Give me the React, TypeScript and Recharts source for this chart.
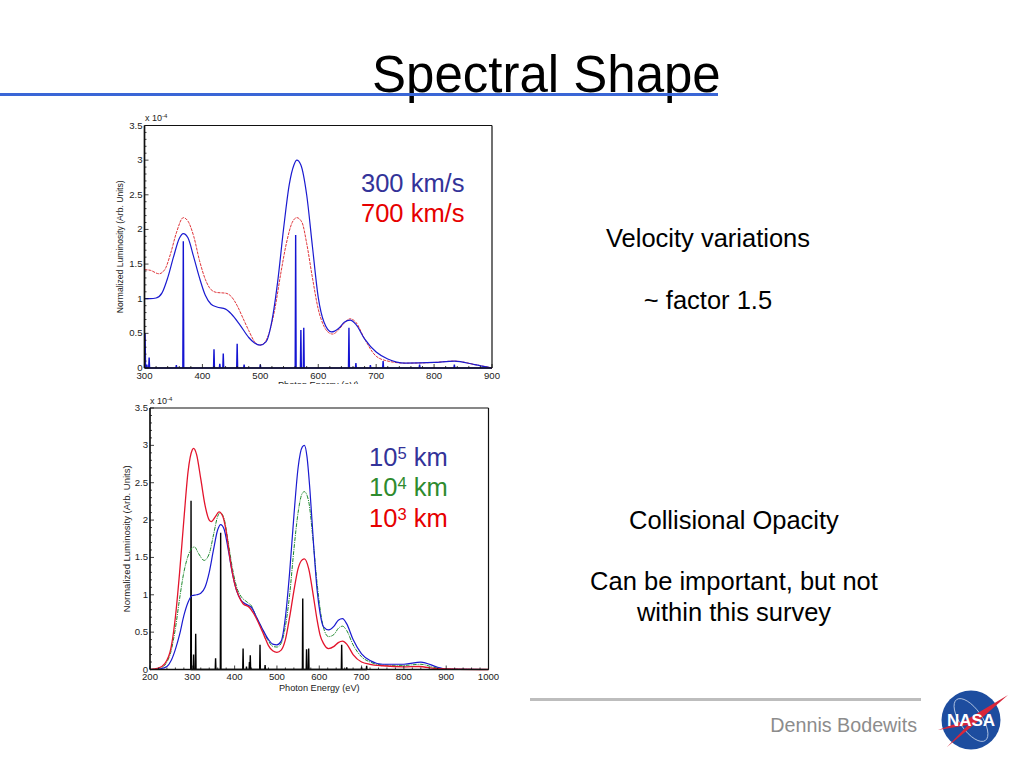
import { Line, LineChart, XAxis, YAxis } from "recharts";

type Pair = [number, number];

const topBlueCurve: Pair[] = [[300,1.0],[310,1.0],[320,1.01],[330,1.08],[340,1.3],[350,1.6],[360,1.87],[367,1.94],[375,1.88],[385,1.6],[395,1.3],[405,1.05],[415,.92],[425,.88],[440,.85],[450,.78],[465,.62],[480,.44],[490,.36],[500,.33],[510,.38],[520,.68],[530,1.25],[540,2.0],[550,2.65],[558,2.93],[563,3.0],[570,2.93],[580,2.5],[590,1.75],[600,1.02],[610,.66],[623,.52],[635,.57],[645,.66],[655,.69],[665,.63],[680,.42],[700,.23],[720,.13],[750,.07],[800,.08],[835,.1],[870,.05],[900,0]];
const topRedCurve: Pair[] = [[300,1.42],[310,1.41],[325,1.36],[335,1.42],[345,1.65],[355,1.95],[367,2.17],[375,2.12],[385,1.9],[395,1.55],[405,1.28],[415,1.13],[425,1.09],[440,1.08],[450,1.03],[460,.9],[470,.72],[480,.54],[490,.38],[498,.33],[505,.35],[515,.5],[525,.85],[535,1.35],[545,1.8],[555,2.1],[563,2.17],[572,2.1],[580,1.8],[590,1.3],[600,.85],[610,.6],[620,.5],[625,.49],[635,.55],[645,.65],[655,.71],[665,.66],[680,.42],[700,.17],[720,.1],[750,.07],[800,.08],[835,.1],[870,.05],[900,0]];
const topLines: Pair[] = [[301,.5],[304,.05],[308,.15],[355,.04],[367,1.83],[420,.27],[430,.06],[436,.21],[460,.35],[472,.05],[500,.05],[561,1.92],[570,.55],[575,.58],[653,.58],[665,.07],[690,.04],[712,.1],[775,.05],[835,.05],[899,0]];

const botBlueCurve: Pair[] = [[200,0],[225,.01],[240,.04],[250,.12],[260,.27],[270,.47],[280,.72],[290,.9],[300,.99],[310,1.0],[320,1.02],[330,1.1],[340,1.3],[350,1.6],[360,1.87],[367,1.94],[375,1.88],[385,1.6],[395,1.28],[405,1.05],[415,.93],[425,.88],[440,.83],[450,.72],[465,.55],[480,.4],[490,.34],[500,.33],[510,.38],[520,.7],[530,1.3],[540,2.05],[550,2.7],[560,2.98],[565,3.0],[571,2.85],[578,2.4],[587,1.64],[595,1.06],[602,.75],[610,.57],[622,.53],[635,.58],[645,.66],[655,.68],[665,.61],[680,.4],[700,.21],[720,.12],[750,.07],[800,.07],[840,.1],[880,.03],[900,.005],[1000,0]];
const botGreenCurve: Pair[] = [[200,0],[225,.02],[240,.1],[250,.25],[260,.55],[270,.95],[280,1.3],[290,1.52],[300,1.63],[305,1.64],[315,1.55],[328,1.46],[340,1.55],[350,1.8],[360,2.05],[366,2.1],[375,2.02],[385,1.7],[395,1.35],[405,1.1],[415,.98],[430,.9],[440,.85],[450,.72],[465,.55],[480,.38],[490,.31],[500,.3],[510,.35],[520,.58],[530,1.0],[540,1.6],[550,2.1],[560,2.36],[565,2.38],[575,2.25],[585,1.75],[595,1.15],[605,.7],[615,.48],[622,.44],[635,.47],[645,.55],[655,.58],[665,.52],[680,.33],[700,.17],[720,.1],[750,.06],[800,.055],[840,.07],[870,.03],[900,.005],[1000,0]];
const botRedCurve: Pair[] = [[200,0],[220,.02],[235,.08],[250,.3],[260,.7],[270,1.3],[280,2.0],[290,2.65],[300,2.94],[303,2.96],[310,2.88],[320,2.55],[330,2.2],[340,2.0],[345,1.98],[355,2.05],[363,2.11],[372,2.05],[380,1.85],[390,1.45],[400,1.15],[410,.98],[420,.88],[435,.83],[445,.75],[460,.58],[470,.45],[480,.32],[490,.25],[500,.23],[510,.26],[520,.4],[530,.7],[540,1.05],[550,1.35],[560,1.47],[565,1.48],[575,1.35],[587,.95],[595,.66],[602,.46],[610,.35],[622,.28],[635,.31],[645,.36],[655,.38],[665,.34],[680,.2],[700,.1],[720,.07],[750,.05],[800,.035],[835,.04],[880,.01],[1000,0]];
const botLines: Pair[] = [[297,2.26],[303,.2],[308,.48],[355,.15],[367,1.83],[420,.28],[428,.04],[435,.1],[437,.19],[460,.33],[472,.06],[561,.95],[570,.27],[575,.28],[653,.33],[665,.03],[700,.03],[712,.05]];

const topXTicks = [300, 400, 500, 600, 700, 800, 900];
const botXTicks = [200, 300, 400, 500, 600, 700, 800, 900, 1000];
const yTicks = [0, 0.5, 1, 1.5, 2, 2.5, 3, 3.5];
const topXMinor = [320, 340, 360, 380, 420, 440, 460, 480, 520, 540, 560, 580, 620, 640, 660, 680, 720, 740, 760, 780, 820, 840, 860, 880];
const botXMinor = [220, 240, 260, 280, 320, 340, 360, 380, 420, 440, 460, 480, 520, 540, 560, 580, 620, 640, 660, 680, 720, 740, 760, 780, 820, 840, 860, 880, 920, 940, 960, 980];
const yMinor = [0.1, 0.2, 0.3, 0.4, 0.6, 0.7, 0.8, 0.9, 1.1, 1.2, 1.3, 1.4, 1.6, 1.7, 1.8, 1.9, 2.1, 2.2, 2.3, 2.4, 2.6, 2.7, 2.8, 2.9, 3.1, 3.2, 3.3, 3.4];

const toRows = (pairs: Pair[]) => pairs.map(([x, y]) => ({ x, y }));
// each emission line goes up and back down at the same energy
const toSpikes = (pairs: Pair[]) =>
  pairs.flatMap(([x, y]) => [
    { x: x - 0.8, y: 0 },
    { x, y },
    { x: x + 0.8, y: 0 },
  ]);

const FONT = "'Liberation Sans', Arial, sans-serif";
const AXIS_COLOR = "#111";
const TICK_FONT = 9.6;

function tickRenderer(side: "bottom" | "left" | "top" | "right", majors: number[]) {
  return (props: any) => {
    const { x, y, payload } = props;
    const major = majors.includes(payload.value);
    const len = major ? 4 : 2;
    const dx = side === "left" ? len : side === "right" ? -len : 0;
    const dy = side === "bottom" ? -len : side === "top" ? len : 0;
    return (
      <g>
        <line x1={x} y1={y} x2={x + dx} y2={y + dy} stroke={AXIS_COLOR} strokeWidth={0.8} />
        {major && side === "bottom" && (
          <text x={x} y={y + 10.5} textAnchor="middle" fontSize={TICK_FONT} fontFamily={FONT} fill="#222">
            {payload.value}
          </text>
        )}
        {major && side === "left" && (
          <text x={x - 2} y={y + 3} textAnchor="end" fontSize={TICK_FONT} fontFamily={FONT} fill="#222">
            {payload.value}
          </text>
        )}
      </g>
    );
  };
}

type PlotProps = {
  left: number;
  top: number;
  width: number;
  height: number;
  plotLeft: number;
  plotTop: number;
  plotWidth: number;
  plotHeight: number;
  xDomain: [number, number];
  xTicks: number[];
  xMinor: number[];
  yLabelSize: number;
  yLabelOffset: number;
  xLabelOffset: number;
  series: { name: string; rows: { x: number; y: number }[]; color: string; width: number; dash?: string }[];
};

function Plot(p: PlotProps) {
  const allX = [...p.xTicks, ...p.xMinor];
  const allY = [...yTicks, ...yMinor];
  return (
    <div style={{ position: "absolute", left: p.left, top: p.top, width: p.width, height: p.height, overflow: "hidden" }}>
      <LineChart
        width={p.width}
        height={p.height + 20}
        margin={{
          left: p.plotLeft - p.left - 1,
          top: p.plotTop - p.top - 1,
          right: p.left + p.width - p.plotLeft - p.plotWidth - 1,
          bottom: p.top + p.height + 20 - p.plotTop - p.plotHeight - 1,
        }}
      >
        <XAxis
          xAxisId="b"
          type="number"
          dataKey="x"
          domain={p.xDomain}
          ticks={allX}
          interval={0}
          height={1}
          tickSize={0}
          tickMargin={0}
          tickLine={false}
          allowDuplicatedCategory={false}
          stroke={AXIS_COLOR}
          strokeWidth={1.5}
          tick={tickRenderer("bottom", p.xTicks)}
          label={{ value: "Photon Energy (eV)", position: "bottom", offset: p.xLabelOffset, fontSize: 9.2, fontFamily: FONT, fill: "#222" }}
        />
        <XAxis
          xAxisId="t"
          orientation="top"
          type="number"
          domain={p.xDomain}
          ticks={allX}
          interval={0}
          height={1}
          tickSize={0}
          tickMargin={0}
          tickLine={false}
          stroke={AXIS_COLOR}
          strokeWidth={1.2}
          tick={tickRenderer("top", p.xTicks)}
        />
        <YAxis
          yAxisId="l"
          type="number"
          domain={[0, 3.5]}
          ticks={allY}
          interval={0}
          width={1}
          tickSize={0}
          tickMargin={0}
          tickLine={false}
          stroke={AXIS_COLOR}
          strokeWidth={1.7}
          tick={tickRenderer("left", yTicks)}
          label={{ value: "Normalized Luminosity (Arb. Units)", angle: -90, position: "left", offset: p.yLabelOffset, textAnchor: "middle", fontSize: p.yLabelSize, fontFamily: FONT, fill: "#222" }}
        />
        <YAxis
          yAxisId="r"
          orientation="right"
          type="number"
          domain={[0, 3.5]}
          ticks={allY}
          interval={0}
          width={1}
          tickSize={0}
          tickMargin={0}
          tickLine={false}
          stroke={AXIS_COLOR}
          strokeWidth={1.2}
          tick={tickRenderer("right", yTicks)}
        />
        {p.series.map((s) => (
          <Line
            key={s.name}
            xAxisId="b"
            yAxisId="l"
            data={s.rows}
            dataKey="y"
            name={s.name}
            type={s.name === "lines" ? "linear" : "monotone"}
            stroke={s.color}
            strokeWidth={s.width}
            strokeDasharray={s.dash}
            dot={false}
            activeDot={false}
            isAnimationActive={false}
          />
        ))}
      </LineChart>
    </div>
  );
}

const textBox = (left: number, top: number, width: number, size: number, color: string, align: "left" | "center" | "right" = "center") =>
  ({
    position: "absolute",
    left,
    top,
    width,
    fontSize: size,
    lineHeight: `${size + 4}px`,
    color,
    textAlign: align,
    fontFamily: FONT,
    whiteSpace: "nowrap",
  }) as const;

const supStyle = { fontSize: "0.65em", verticalAlign: "baseline", position: "relative", top: "-0.45em" } as const;

function Scale({ left, top }: { left: number; top: number }) {
  return (
    <div style={textBox(left, top, 40, 9, "#222", "left")}>
      x 10<span style={{ ...supStyle, fontSize: 6 }}>-4</span>
    </div>
  );
}

function NasaLogo() {
  return (
    <svg style={{ position: "absolute", left: 938, top: 687 }} width={72} height={66} viewBox="0 0 72 66">
      <circle cx={33} cy={33} r={29.5} fill="#1d4d9f" />
      <ellipse cx={33} cy={33} rx={11} ry={25} transform="rotate(-35 33 33)" fill="none" stroke="#d8e2f2" strokeWidth={0.7} />
      <path d="M0 43 L28 33 L70 8 L38 36 L9 60 L30 38 Z" fill="#d8263a" />
      <text x={33} y={39} textAnchor="middle" fontSize={17} fontWeight="bold" fontFamily={FONT} fill="#fff">
        NASA
      </text>
    </svg>
  );
}

export default function App() {
  return (
    <div style={{ position: "absolute", left: 0, top: 0, width: 1024, height: 768, background: "#fff", overflow: "hidden" }}>
      <div style={textBox(372, 47, 360, 51, "#000", "left")}>Spectral Shape</div>
      <div style={{ position: "absolute", left: 0, top: 93, width: 718, height: 3, background: "#3a66d6" }} />

      <Plot
        left={100}
        top={112}
        width={410}
        height={272}
        plotLeft={144.5}
        plotTop={125.5}
        plotWidth={347.5}
        plotHeight={242.5}
        xDomain={[300, 900]}
        xTicks={topXTicks}
        xMinor={topXMinor}
        yLabelSize={8.6}
        yLabelOffset={24}
        xLabelOffset={12.5}
        series={[
          { name: "lines", rows: toSpikes(topLines), color: "#1414d2", width: 1.4 },
          { name: "700", rows: toRows(topRedCurve), color: "#e0353a", width: 1, dash: "3 1" },
          { name: "300", rows: toRows(topBlueCurve), color: "#1a1ad0", width: 1.2 },
        ]}
      />
      <Scale left={145} top={112} />
      <div style={textBox(361, 169, 120, 25.5, "#333399", "left")}>300 km/s</div>
      <div style={textBox(361, 199, 120, 25.5, "#e60000", "left")}>700 km/s</div>

      <Plot
        left={100}
        top={395}
        width={410}
        height={305}
        plotLeft={150}
        plotTop={408}
        plotWidth={338.5}
        plotHeight={261.5}
        xDomain={[200, 1000]}
        xTicks={botXTicks}
        xMinor={botXMinor}
        yLabelSize={9.5}
        yLabelOffset={22}
        xLabelOffset={14}
        series={[
          { name: "lines", rows: toSpikes(botLines), color: "#000", width: 1.4 },
          { name: "1e4", rows: toRows(botGreenCurve), color: "#1f8a2e", width: 1, dash: "4 1 1 1" },
          { name: "1e5", rows: toRows(botBlueCurve), color: "#1a1ad0", width: 1.2 },
          { name: "1e3", rows: toRows(botRedCurve), color: "#e3142c", width: 1.3 },
        ]}
      />
      <Scale left={150} top={395} />
      <div style={textBox(369, 443, 120, 25.5, "#333399", "left")}>10<span style={supStyle}>5</span> km</div>
      <div style={textBox(369, 473, 120, 25.5, "#2e8b2e", "left")}>10<span style={supStyle}>4</span> km</div>
      <div style={textBox(369, 504, 120, 25.5, "#e60000", "left")}>10<span style={supStyle}>3</span> km</div>

      <div style={textBox(558, 224, 300, 25.5, "#000")}>Velocity variations</div>
      <div style={textBox(558, 286, 300, 25.5, "#000")}>~ factor 1.5</div>
      <div style={textBox(584, 506, 300, 25.5, "#000")}>Collisional Opacity</div>
      <div style={textBox(584, 567, 300, 25.5, "#000")}>Can be important, but not</div>
      <div style={textBox(584, 598, 300, 25.5, "#000")}>within this survey</div>

      <div style={{ position: "absolute", left: 530, top: 698, width: 391, height: 3, background: "#bdbdbd" }} />
      <div style={textBox(717, 714, 200, 19.7, "#8c8c8c", "right")}>Dennis Bodewits</div>
      <NasaLogo />
    </div>
  );
}
